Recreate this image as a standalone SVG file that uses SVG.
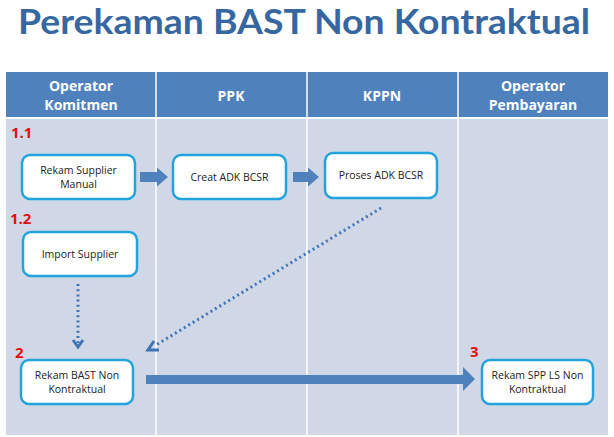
<svg xmlns="http://www.w3.org/2000/svg" width="614" height="437" viewBox="0 0 614 437">
<defs>
<style>
.title{font-family:Lato,"Open Sans",sans-serif;font-weight:bold;font-size:35px;fill:#3767A0}
.hdr{font-family:"Open Sans","Liberation Sans",sans-serif;font-weight:bold;font-size:14px;fill:#fff;text-anchor:middle}
.num{font-family:"Open Sans","Liberation Sans",sans-serif;font-weight:bold;font-size:15px;fill:#E01010}
.box{fill:#fff;stroke:#22A4DA;stroke-width:2.5}
.lbl{font-family:"Open Sans","Liberation Sans",sans-serif;font-size:10.5px;fill:#222;text-anchor:middle}
.dot{fill:none;stroke:#3F74B5;stroke-width:3;stroke-dasharray:2 3.2}
.chev{fill:none;stroke:#3F74B5;stroke-width:3}
.blk{fill:#4F81BD}
</style>
</defs>
<rect width="614" height="437" fill="#fff"/>
<text class="title" x="18" y="34" textLength="572" lengthAdjust="spacingAndGlyphs">Perekaman BAST Non Kontraktual</text>
<g id="table">
<rect x="6" y="72" width="602" height="45" fill="#4F81BD"/>
<rect x="6" y="119" width="602" height="316" fill="#D0D8E8"/>
<g stroke="#fff" stroke-width="1.5">
<line x1="156" y1="72" x2="156" y2="435"/>
<line x1="307" y1="72" x2="307" y2="435"/>
<line x1="458" y1="72" x2="458" y2="435"/>
</g>
<text class="hdr" x="81" y="91">Operator</text>
<text class="hdr" x="81" y="110">Komitmen</text>
<text class="hdr" x="231" y="101">PPK</text>
<text class="hdr" x="382" y="101">KPPN</text>
<text class="hdr" x="533" y="91">Operator</text>
<text class="hdr" x="533" y="110">Pembayaran</text>
</g>
<g id="labels">
<text class="num" x="11" y="138">1.1</text>
<text class="num" x="10" y="224">1.2</text>
<text class="num" x="15" y="358">2</text>
<text class="num" x="470" y="357">3</text>
</g>
<g id="n1">
<rect class="box" x="22" y="155" width="113" height="44" rx="8"/>
<text class="lbl" x="78.5" y="174">Rekam Supplier</text>
<text class="lbl" x="78.5" y="188">Manual</text>
</g>
<g id="n2">
<rect class="box" x="173" y="155" width="113" height="44" rx="8"/>
<text class="lbl" x="229.5" y="181">Creat ADK BCSR</text>
</g>
<g id="n3">
<rect class="box" x="325" y="153" width="112" height="45" rx="8"/>
<text class="lbl" x="381" y="179">Proses ADK BCSR</text>
</g>
<g id="n4">
<rect class="box" x="23" y="232" width="114" height="44" rx="8"/>
<text class="lbl" x="80" y="258">Import Supplier</text>
</g>
<g id="n5">
<rect class="box" x="21" y="360" width="112" height="44" rx="8"/>
<text class="lbl" x="77" y="379">Rekam BAST Non</text>
<text class="lbl" x="77" y="393">Kontraktual</text>
</g>
<g id="n6">
<rect class="box" x="482" y="360" width="111" height="44" rx="8"/>
<text class="lbl" x="537.5" y="379">Rekam SPP LS Non</text>
<text class="lbl" x="537.5" y="393">Kontraktual</text>
</g>
<g id="connectors">
<polygon class="blk" points="140,172 157,172 157,167.5 168,177 157,186.5 157,182 140,182"/>
<polygon class="blk" points="293,172 308,172 308,167.5 319,177 308,186.5 308,182 293,182"/>
<polygon class="blk" points="146,375 463,375 463,367 475,379 463,391 463,384 146,384"/>
<line class="dot" x1="78" y1="284" x2="78" y2="343"/>
<polyline class="chev" points="73,340 78,347 83,340"/>
<line class="dot" x1="381" y1="208" x2="156" y2="345"/>
<polyline class="chev" points="154,341 148,350 159,350"/>
</g>
</svg>
